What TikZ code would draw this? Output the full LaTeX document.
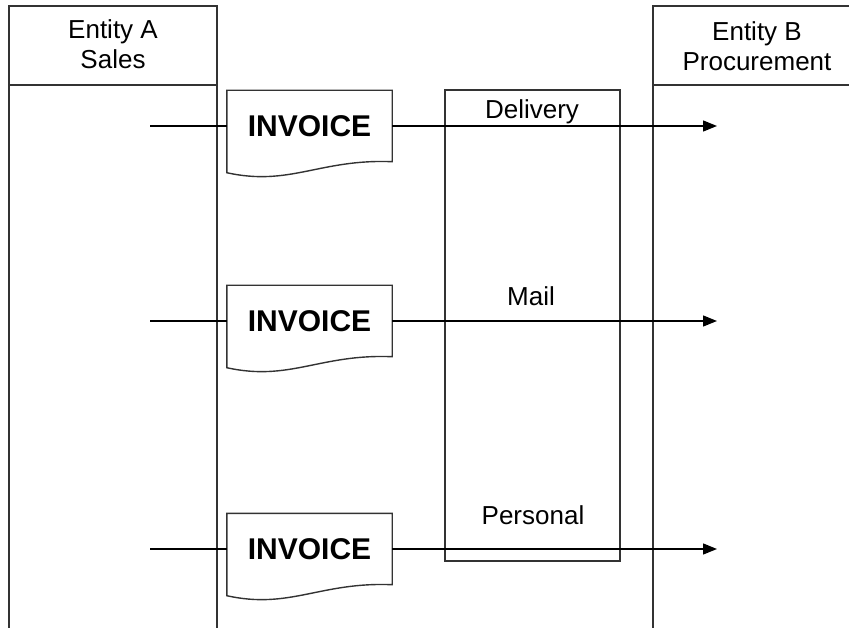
\documentclass[tikz,border=0pt]{standalone}
\usepackage{fontspec}
\setmainfont{Liberation Sans}
\usetikzlibrary{arrows.meta}
\begin{document}
\begin{tikzpicture}[x=1pt,y=-1pt,
  lane/.style={draw=black!80, line width=1.4pt},
  docnode/.style={draw=none, minimum width=165pt, minimum height=71pt, inner sep=0pt,
    font=\fontsize{30}{36}\selectfont\bfseries},
  hdr/.style={align=center, font=\fontsize{26}{30}\selectfont, inner sep=0pt},
  lbl/.style={font=\fontsize{26}{30}\selectfont, inner sep=0pt, anchor=base},
  flow/.style={line width=1.4pt, draw=black},
  flowarr/.style={flow, -{Triangle[length=14pt,width=11pt]}},
  chanbox/.style={draw=black!80, line width=1.4pt, minimum width=175pt, minimum height=471pt, inner sep=0pt},
]
\useasboundingbox (0,0) rectangle (849,628);
\clip (0,0) rectangle (849,628);
\fill[white] (0,0) rectangle (849,628);

% swimlanes
\draw[lane] (9,640) -- (9,6) -- (217,6) -- (217,640);
\draw[lane] (9,85) -- (217,85);
\draw[lane] (653,640) -- (653,6) -- (870,6);
\draw[lane] (653,85) -- (870,85);
\node[hdr] (hA) at (113,44) {Entity A\\Sales};
\node[hdr] (hB) at (757,46) {Entity B\\Procurement};

% channel box
\node[chanbox] (chan) at (532.5,325.5) {};
\node[lbl] (ldel) at (532,119) {Delivery};
\node[lbl] (lmail) at (531,306) {Mail};
\node[lbl] (lpers) at (533,524) {Personal};

% invoices
\foreach \i/\yy in {1/126, 2/321, 3/549} {
  \node[docnode] (inv\i) at (309.5,\yy) {INVOICE};
  \draw[lane] (inv\i.north west) -- (inv\i.north east) -- (inv\i.south east)
     .. controls +(-72,-3) and +(63,14) .. ([yshift=-11pt]inv\i.south west) -- cycle;
  \coordinate (s\i) at (150,\yy);
  \coordinate (t\i) at (717,\yy);
  \draw[flow] (s\i) -- (inv\i.west);
  \draw[flowarr] (inv\i.east) -- (t\i);
}
\end{tikzpicture}
\end{document}
